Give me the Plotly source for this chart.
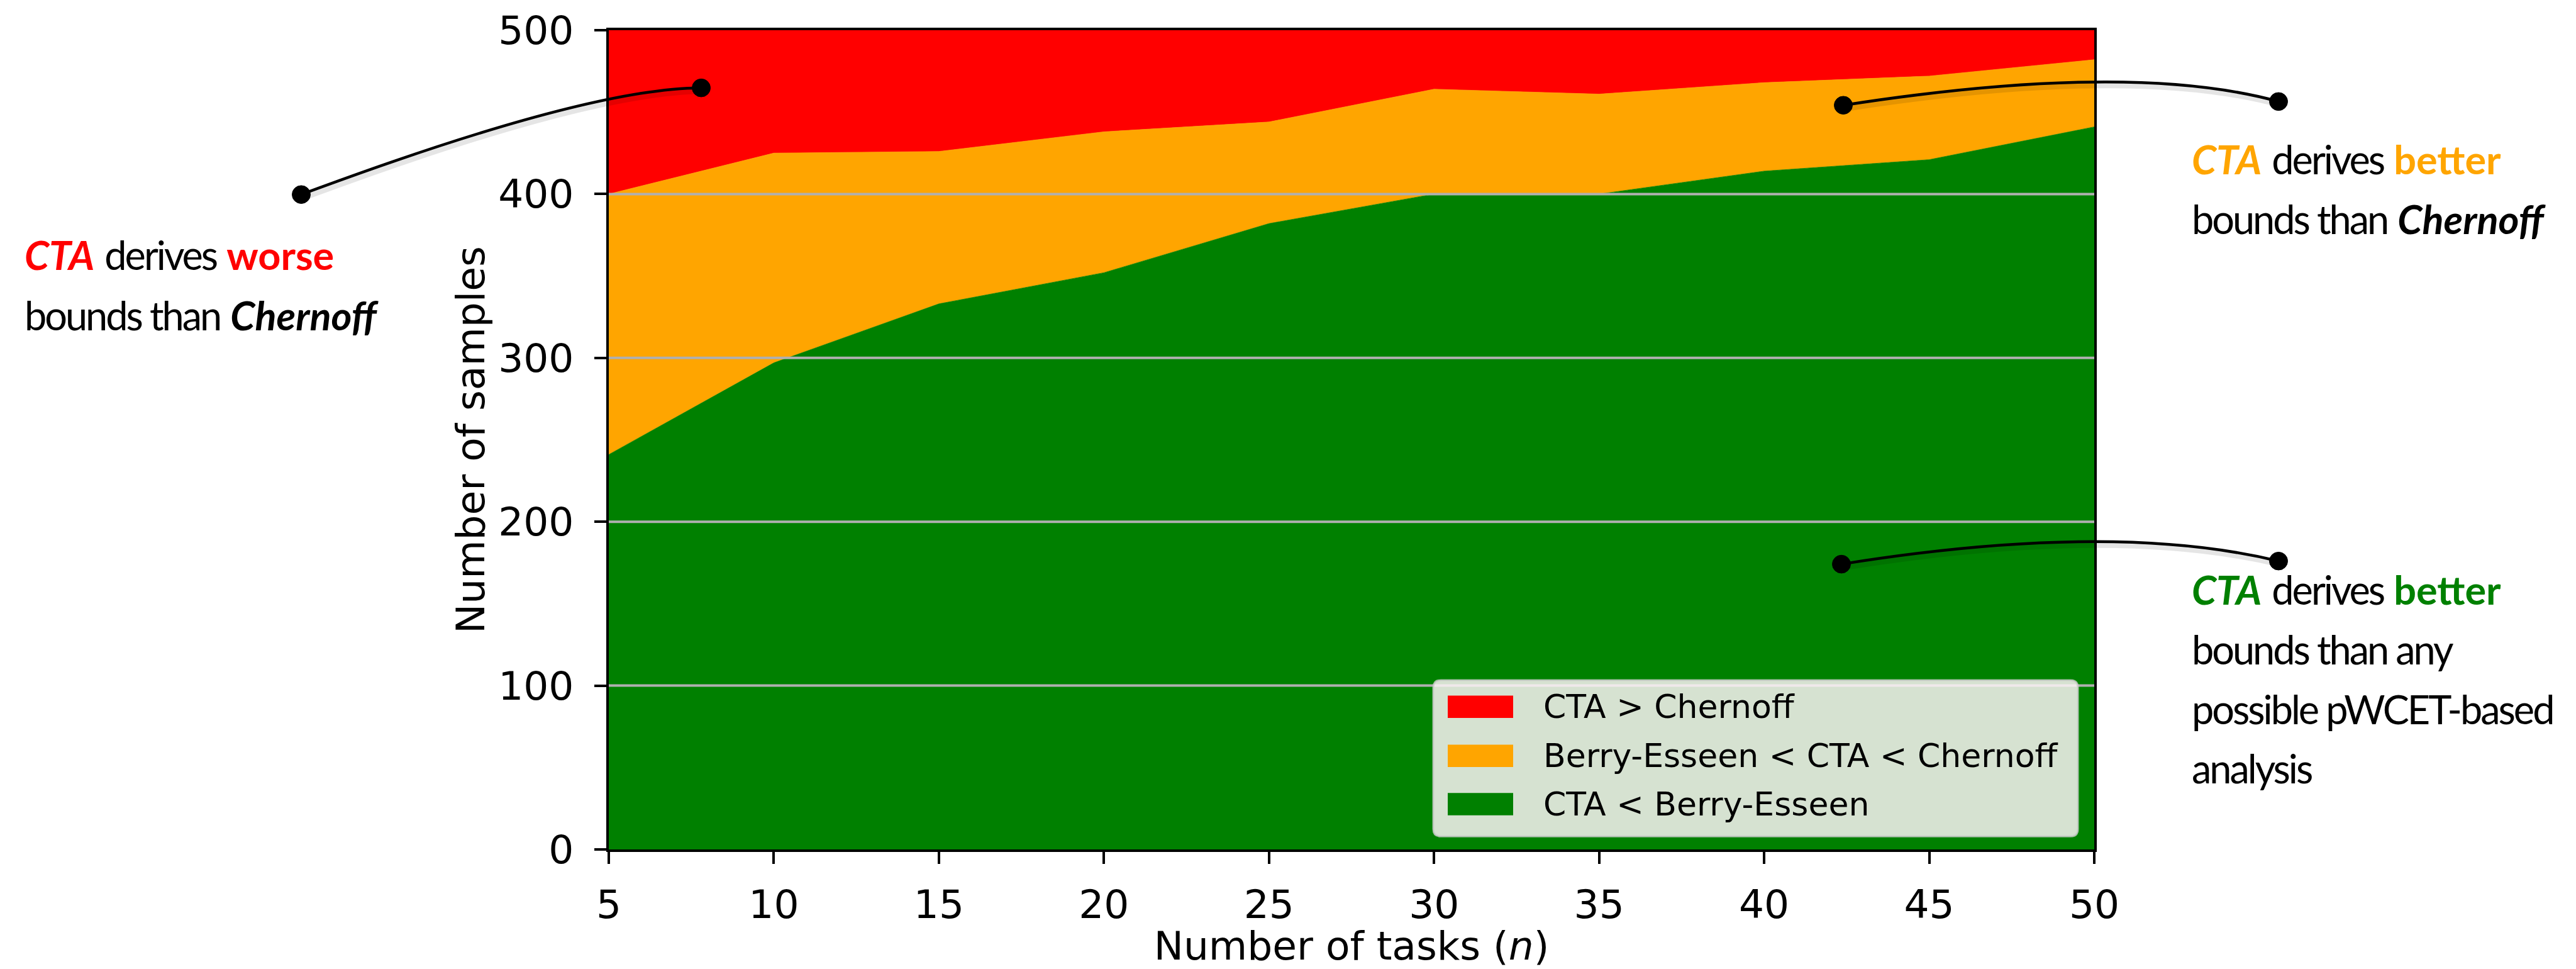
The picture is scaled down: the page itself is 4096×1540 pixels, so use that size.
import plotly.graph_objects as go

# ---------------- data ----------------
n_tasks = [5, 10, 15, 20, 25, 30, 35, 40, 45, 50]
cta_lt_be = [241, 297, 333, 352, 382, 400, 400, 414, 421, 441]          # CTA < Berry-Esseen
be_lt_cta_lt_ch = [159, 128, 93, 86, 62, 64, 61, 54, 51, 41]            # Berry-Esseen < CTA < Chernoff
cta_gt_ch = [100, 75, 74, 62, 56, 36, 39, 32, 28, 18]                   # CTA > Chernoff
series_names = ["CTA < Berry-Esseen", "Berry-Esseen < CTA < Chernoff", "CTA > Chernoff"]
series_colors = ["#008000", "#FFA500", "#FF0000"]
x_ticks = [5, 10, 15, 20, 25, 30, 35, 40, 45, 50]
y_ticks = [0, 100, 200, 300, 400, 500]
grid_values = [100, 200, 300, 400]

# ---------------- geometry (pixels in 4096x1540) ----------------
W, H = 4096, 1540
L, R, T, B = 968, 3330, 44, 1365


def px(x):
    return (x - L) / (R - L)


def py(y):
    return (B - y) / (B - T)


fig = go.Figure()
for vals, name, col in zip([cta_lt_be, be_lt_cta_lt_ch, cta_gt_ch], series_names, series_colors):
    fig.add_trace(go.Scatter(
        x=n_tasks, y=vals, name=name, mode="lines", stackgroup="one",
        line=dict(width=0.8, color=col), fillcolor=col, showlegend=False,
    ))

shapes = []
# horizontal grid lines above fills
for g in grid_values:
    shapes.append(dict(type="line", xref="paper", yref="y", x0=0, x1=1, y0=g, y1=g,
                       line=dict(color="#b0b0b0", width=4), layer="above"))

# legend box (rounded)
lx0, ly0, lx1, ly1, rr = 2279, 1092, 3304, 1344, 12
legend_path = (
    f"M {px(lx0 + rr)},{py(ly0)} L {px(lx1 - rr)},{py(ly0)} Q {px(lx1)},{py(ly0)} {px(lx1)},{py(ly0 + rr)} "
    f"L {px(lx1)},{py(ly1 - rr)} Q {px(lx1)},{py(ly1)} {px(lx1 - rr)},{py(ly1)} "
    f"L {px(lx0 + rr)},{py(ly1)} Q {px(lx0)},{py(ly1)} {px(lx0)},{py(ly1 - rr)} "
    f"L {px(lx0)},{py(ly0 + rr)} Q {px(lx0)},{py(ly0)} {px(lx0 + rr)},{py(ly0)} Z"
)
shapes.append(dict(type="path", xref="paper", yref="paper", path=legend_path,
                   fillcolor="rgba(252,243,246,0.85)", line=dict(color="rgba(204,204,204,0.8)", width=3),
                   layer="above"))

legend_rows = [
    (series_names[2], series_colors[2], 1135),
    (series_names[1], series_colors[1], 1214),
    (series_names[0], series_colors[0], 1292),
]
annotations = []
for name, col, cy in legend_rows:
    shapes.append(dict(type="rect", xref="paper", yref="paper",
                       x0=px(2302), x1=px(2406), y0=py(cy - 18), y1=py(cy + 18),
                       fillcolor=col, line=dict(width=0), layer="above"))
    annotations.append(dict(xref="paper", yref="paper", x=px(2452), y=py(cy),
                            text=name.replace("<", "&lt;").replace(">", "&gt;"),
                            showarrow=False, xanchor="left", yanchor="middle",
                            font=dict(family="DejaVu Sans", size=52, color="black")))

# sketchy connector curves with dots
curves = [
    ((479, 309), (934, 137), (1115, 137)),
    ((2931, 165), (3388, 93), (3623, 159)),
    ((2928, 905), (3358, 835), (3623, 900)),
]
dot_r = 14.5
for (s, c, e) in curves:
    # soft shadow
    shapes.append(dict(type="path", xref="paper", yref="paper",
                       path=f"M {px(s[0]+3)},{py(s[1]+5)} Q {px(c[0]+3)},{py(c[1]+5)} {px(e[0]+3)},{py(e[1]+5)}",
                       line=dict(color="rgba(0,0,0,0.10)", width=10), layer="above"))
    shapes.append(dict(type="path", xref="paper", yref="paper",
                       path=f"M {px(s[0])},{py(s[1])} Q {px(c[0])},{py(c[1])} {px(e[0])},{py(e[1])}",
                       line=dict(color="black", width=4.5), layer="above"))
    for (dx, dy) in (s, e):
        shapes.append(dict(type="circle", xref="paper", yref="paper",
                           x0=px(dx - dot_r), x1=px(dx + dot_r), y0=py(dy + dot_r), y1=py(dy - dot_r),
                           fillcolor="black", line=dict(color="black", width=1), layer="above"))

ANN_FONT = "Lato, Roboto, sans-serif"
ANN_SIZE = 63
RED, ORANGE, GREEN = "#FF0000", "#FFA500", "#008000"


def reg(t):
    return f'<span style="letter-spacing:-3px">{t}</span>'


def cta_line(color, word):
    return (f'<b><i><span style="color:{color}">CTA</span></i></b> ' + reg("derives") + ' '
            f'<b><span style="color:{color}">{word}</span></b>')


text_lines = [
    (37, 406, cta_line(RED, "worse")),
    (37, 503, reg("bounds than") + " <b><i>Chernoff</i></b>"),
    (3483, 251, cta_line(ORANGE, "better")),
    (3483, 348, reg("bounds than") + " <b><i>Chernoff</i></b>"),
    (3483, 945, cta_line(GREEN, "better")),
    (3483, 1042, reg("bounds than any")),
    (3483, 1138, reg("possible pWCET-based")),
    (3483, 1234, reg("analysis")),
]
for x, y, txt in text_lines:
    annotations.append(dict(xref="paper", yref="paper", x=px(x), y=py(y), text=txt,
                            showarrow=False, xanchor="left", yanchor="middle", align="left",
                            font=dict(family=ANN_FONT, size=ANN_SIZE, color="black")))

axis_font = dict(family="DejaVu Sans", size=63, color="black")
fig.update_layout(
    width=W, height=H,
    margin=dict(l=L, r=W - R, t=T, b=H - B),
    paper_bgcolor="white", plot_bgcolor="white",
    shapes=shapes, annotations=annotations, showlegend=False,
    xaxis=dict(range=[5, 50], tickvals=x_ticks, ticktext=[str(v) for v in x_ticks],
               showgrid=False, zeroline=False, showline=True, mirror=True,
               linecolor="black", linewidth=4, ticks="outside", ticklen=19, tickwidth=4,
               tickcolor="black", tickfont=axis_font, ticklabelstandoff=10,
               title=dict(text="Number of tasks (<i>n</i>)", font=axis_font, standoff=10)),
    yaxis=dict(range=[0, 500], tickvals=y_ticks, ticktext=[str(v) for v in y_ticks],
               showgrid=False, zeroline=False, showline=True, mirror=True,
               linecolor="black", linewidth=4, ticks="outside", ticklen=19, tickwidth=4,
               tickcolor="black", tickfont=axis_font, ticklabelstandoff=20,
               title=dict(text="Number of samples", font=axis_font, standoff=2)),
)

fig.write_html("out.html")
